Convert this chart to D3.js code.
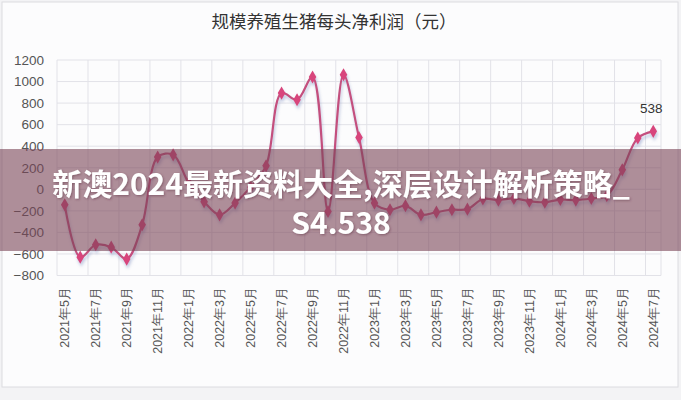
<!DOCTYPE html>
<html>
<head>
<meta charset="utf-8">
<script src="https://cdn.jsdelivr.net/npm/d3@7"></script>
<style>
  body { margin: 0; background: #f3f3f5; }
  svg { display: block; font-family: "Noto Sans CJK SC", "Noto Sans", sans-serif; }
</style>
</head>
<body>
<div id="chart"></div>
<script>
// data, one value per month
var months = [];
for (var y = 2021, m = 5; !(y == 2024 && m == 8); m++) {
  if (m > 12) { m = 1; y++; }
  months.push(y + "年" + m + "月");
}
var profit = [-144, -630, -515, -537, -648, -330, 299, 320, 60, -116,
              -237, -128, 20, 218, 893, 831, 1042, -206, 1063, 481,
              -128, -190, -153, -237, -212, -190, -184, -90, -100, -85,
              -110, -120, -95, -100, -85, -60, 181, 476, 538];
var yTicks = [-800, -600, -400, -200, 0, 200, 400, 600, 800, 1000, 1200];
var title = "规模养殖生猪每头净利润（元）";
var banner = ["新澳2024最新资料大全,深层设计解析策略_", "S4.538"];

var svgWidth = 681, svgHeight = 400;
var margin = { top: 60, right: 20, bottom: 124, left: 57 };
var width = svgWidth - margin.left - margin.right;
var height = svgHeight - margin.top - margin.bottom;

var svg = d3.select("#chart").append("svg")
  .attr("width", svgWidth)
  .attr("height", svgHeight);

var defs = svg.append("defs");
defs.append("filter").attr("id", "shadow")
  .attr("x", "-10%").attr("y", "-10%").attr("width", "120%").attr("height", "130%")
  .append("feDropShadow")
  .attr("dx", 1).attr("dy", 3).attr("stdDeviation", 1.5)
  .attr("flood-color", "#7d8cc0").attr("flood-opacity", 0.45);
defs.append("filter").attr("id", "tshadow")
  .append("feDropShadow")
  .attr("dx", 1).attr("dy", 1).attr("stdDeviation", 1)
  .attr("flood-color", "#5a2a3a").attr("flood-opacity", 0.5);

// outer frame
svg.append("rect")
  .attr("x", 2).attr("y", 2)
  .attr("width", svgWidth - 5).attr("height", 385)
  .attr("fill", "#fcfcfd")
  .attr("stroke", "#dcdce0");

svg.append("text")
  .attr("x", 334).attr("y", 28)
  .attr("text-anchor", "middle")
  .attr("font-size", 17.5)
  .attr("fill", "#333")
  .text(title);

var chartGroup = svg.append("g")
  .attr("transform", `translate(${margin.left}, ${margin.top})`);

var xScale = d3.scaleBand()
  .domain(months)
  .range([0, 604]);
var bw = xScale.bandwidth();
var cx = d => xScale(d) + bw / 2;

var yScale = d3.scaleLinear()
  .domain([-800, 1200])
  .range([215.5, 0]);

// grid
chartGroup.selectAll("line.hgrid")
  .data(yTicks)
  .enter().append("line")
  .attr("class", "hgrid")
  .attr("x1", 0).attr("x2", 604)
  .attr("y1", d => yScale(d)).attr("y2", d => yScale(d))
  .attr("stroke", "#e2e2e8");

var vgrid = months.filter((d, i) => i % 2 == 0);
chartGroup.selectAll("line.vgrid")
  .data(vgrid)
  .enter().append("line")
  .attr("class", "vgrid")
  .attr("x1", d => xScale(d)).attr("x2", d => xScale(d))
  .attr("y1", 0).attr("y2", 215.5)
  .attr("stroke", "#e2e2e8");
chartGroup.append("line")
  .attr("x1", 604).attr("x2", 604).attr("y1", 0).attr("y2", 215.5)
  .attr("stroke", "#e2e2e8");

// y axis labels
var leftAxis = d3.axisLeft(yScale).tickValues(yTicks).tickFormat(d3.format("d"))
  .tickSize(0).tickPadding(13);
chartGroup.append("g")
  .call(leftAxis)
  .call(g => g.select(".domain").remove())
  .selectAll("text")
  .attr("font-size", 13.5)
  .attr("font-family", "'Liberation Sans', sans-serif")
  .attr("fill", "#555");

// x axis labels, every other month
var bottomAxis = d3.axisBottom(xScale).tickValues(vgrid).tickSize(0).tickPadding(0);
chartGroup.append("g")
  .attr("transform", `translate(0, ${height})`)
  .call(bottomAxis)
  .call(g => g.select(".domain").remove())
  .selectAll("text")
  .attr("font-size", 12.5)
  .attr("fill", "#555")
  .attr("text-anchor", "end")
  .attr("dy", "0.35em")
  .attr("transform", "translate(0, 11) rotate(-90)")
  .attr("x", 0).attr("y", 0);

// series
var points = months.map((m, i) => ({ m: m, v: profit[i] }));
var line = d3.line()
  .x(d => cx(d.m))
  .y(d => yScale(d.v))
  .curve(d3.curveCatmullRom.alpha(0.5));

var series = chartGroup.append("g").attr("filter", "url(#shadow)");
series.append("path")
  .datum(points)
  .attr("d", line)
  .attr("fill", "none")
  .attr("stroke", "#c4507e")
  .attr("stroke-width", 2.2);

series.selectAll("path.marker")
  .data(points)
  .enter().append("path")
  .attr("class", "marker")
  .attr("d", d3.symbol().type(d3.symbolDiamond).size(50))
  .attr("transform", d => `translate(${cx(d.m)}, ${yScale(d.v)})`)
  .attr("fill", "#d8457c");

var last = points[points.length - 1];
chartGroup.append("text")
  .attr("x", cx(last.m) - 2)
  .attr("y", yScale(last.v) - 18)
  .attr("text-anchor", "middle")
  .attr("font-size", 13.5)
  .attr("font-family", "'Liberation Sans', sans-serif")
  .attr("fill", "#333")
  .text(last.v);

// overlay banner
svg.append("rect")
  .attr("x", 0).attr("y", 149)
  .attr("width", svgWidth).attr("height", 102)
  .attr("fill", "#7a4556")
  .attr("opacity", 0.6);

svg.selectAll("text.banner")
  .data(banner)
  .enter().append("text")
  .attr("class", "banner")
  .attr("x", 341)
  .attr("y", (d, i) => 195 + i * 38.5)
  .attr("text-anchor", "middle")
  .attr("font-size", 30)
  .attr("font-weight", "bold")
  .attr("fill", "#fff")
  .attr("filter", "url(#tshadow)")
  .text(d => d);
</script>
</body>
</html>
